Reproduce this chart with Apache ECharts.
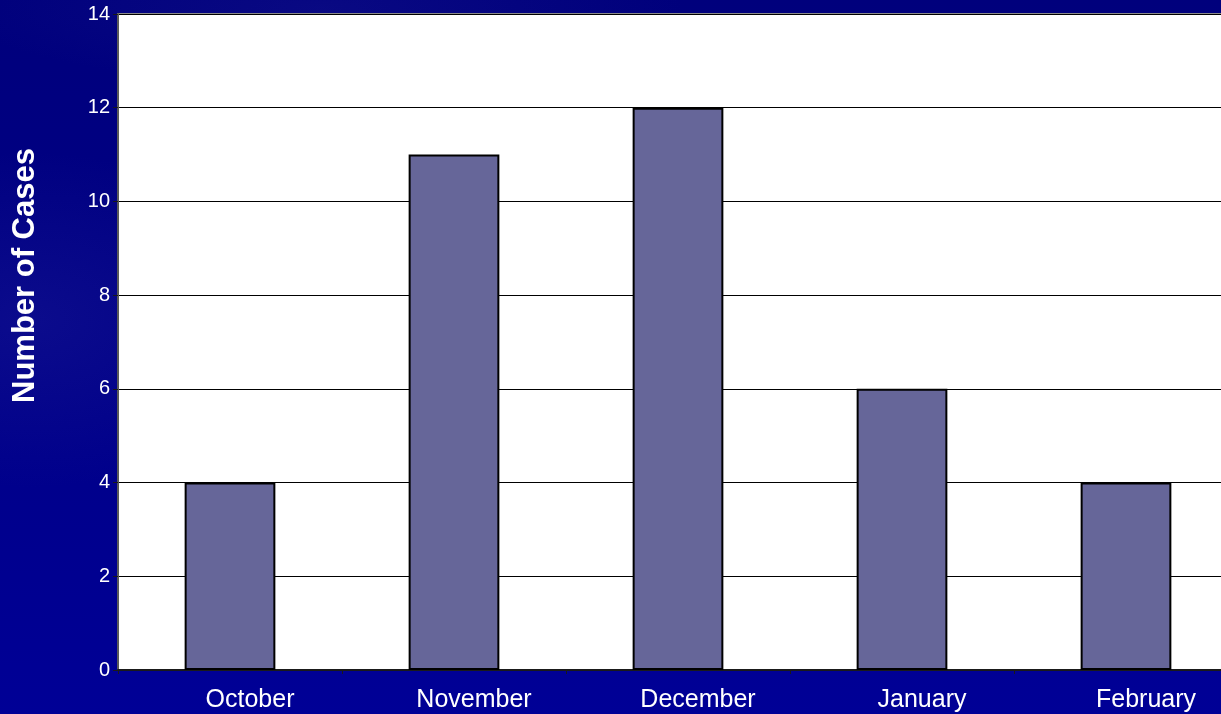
<!DOCTYPE html>
<html>
<head>
<meta charset="utf-8">
<script src="https://cdn.jsdelivr.net/npm/echarts@6/dist/echarts.min.js"></script>
<style>
  html, body { margin: 0; padding: 0; width: 1221px; height: 714px; overflow: hidden; }
  body {
    background:
      radial-gradient(ellipse 380px 240px at 30px 320px, rgba(45,45,160,0.25), rgba(0,0,128,0) 70%),
      radial-gradient(ellipse 520px 110px at 320px 8px, rgba(35,35,150,0.25), rgba(0,0,128,0) 70%),
      linear-gradient(180deg, #00007c 0%, #000088 55%, #000096 100%);
  }
  #chart { width: 1221px; height: 714px; }
</style>
</head>
<body>
<div id="chart"></div>
<script>
// Monthly case counts
const months = ['October', 'November', 'December', 'January', 'February'];
const cases = [4, 11, 12, 6, 4];
const yTicks = { min: 0, max: 14, interval: 2 };

const chart = echarts.init(document.getElementById('chart'), null, { renderer: 'canvas' });

chart.setOption({
  backgroundColor: 'transparent',
  animation: false,
  grid: {
    left: 118,
    top: 14,
    right: -17,
    bottom: 44,
    outerBoundsMode: 'none',
    containLabel: false,
    show: true,
    backgroundColor: '#ffffff',
    borderColor: '#8a8a8a',
    borderWidth: 2
  },
  xAxis: {
    type: 'category',
    data: months,
    axisLine: { lineStyle: { color: '#1a1a1a', width: 2 } },
    axisTick: { show: true, length: 4, lineStyle: { color: '#1a1a1a' } },
    axisLabel: {
      color: '#ffffff',
      fontFamily: 'Liberation Sans, Arial, sans-serif',
      fontSize: 25,
      margin: 18,
      padding: [0, 0, 0, 40]
    },
    splitLine: { show: false }
  },
  yAxis: {
    type: 'value',
    min: yTicks.min,
    max: yTicks.max,
    interval: yTicks.interval,
    axisLine: { show: true, lineStyle: { color: '#5a5a5a', width: 2 } },
    axisTick: { show: true, length: 5, lineStyle: { color: '#1a1a1a' } },
    axisLabel: {
      color: '#ffffff',
      fontFamily: 'Liberation Sans, Arial, sans-serif',
      fontSize: 20,
      margin: 8,
      padding: [10, 0, 0, 0]
    },
    splitLine: { show: true, lineStyle: { color: '#000000', width: 1 } }
  },
  graphic: [{
    type: 'text',
    x: 10,
    y: 403,
    rotation: Math.PI / 2,
    style: {
      text: 'Number of Cases',
      fill: '#ffffff',
      font: 'bold 31px "Liberation Sans", Arial, sans-serif',
      textAlign: 'left',
      textVerticalAlign: 'top'
    }
  }],
  series: [{
    type: 'bar',
    data: cases,
    barWidth: '40.5%',
    itemStyle: { color: '#666699', borderColor: '#000000', borderWidth: 2 }
  }]
});
</script>
</body>
</html>
